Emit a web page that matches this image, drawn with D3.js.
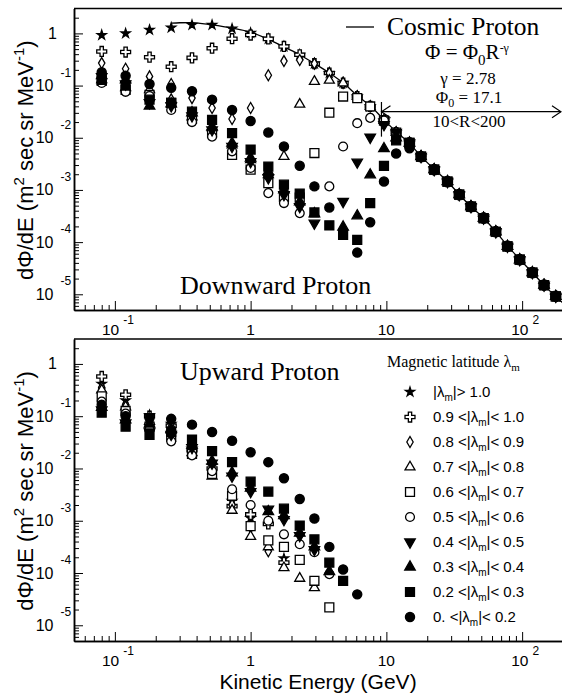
<!DOCTYPE html>
<html>
<head>
<meta charset="utf-8">
<script src="https://cdnjs.cloudflare.com/ajax/libs/d3/7.8.5/d3.min.js"></script>
<style>
    body { margin: 0; background: #fff; }
    svg { display: block; }
    .serif { font-family: "Liberation Serif", "Times New Roman", serif; }
    .sans { font-family: "Liberation Sans", Arial, Helvetica, sans-serif; }
    .axis .domain { stroke: #000; stroke-width: 1.5; }
    .axis .tick line { stroke: #000; stroke-width: 1; }
</style>
</head>
<body>
<div id="chart"></div>
<script>

// kinetic energy bins (GeV)
const energyBins = [0.08, 0.12, 0.18, 0.26, 0.37, 0.52, 0.73, 1.0, 1.35, 1.76, 2.3, 2.95, 3.8, 4.8, 6.1,
    7.6, 9.6, 11.8, 14.8, 18, 22.5, 28.2, 34.4, 42, 52, 64, 78, 96, 119, 145, 177];

// points sitting on the primary spectrum (all latitudes overlap there)
const primaryFlux = [null, null, null, null, null, null, null, 1.02, 0.785, 0.562, 0.389, 0.263, 0.174, 0.112, 0.0617,
    0.0398, 0.0214, 0.0126, 0.00794, 0.00437, 0.00245, 0.00145, 0.000813, 0.000479, 0.000288, 0.000158,
    8.3e-5, 4.6e-5, 2.6e-5, 1.5e-5, 9.1e-6];

// downward protons, below cutoff part (the rest follows primaryFlux)
const downStar = [0.93, 1.0, 1.17, 1.29, 1.45, 1.45, 1.23, 1.02];
const downCross = [0.45, 0.44, 0.35, 0.23, 0.34, 0.52, 0.79, 0.93];
const downDiamond = [0.27, 0.21, 0.15, 0.107, 0.0575, 0.0372, 0.0229, 0.0372, 0.158, 0.295, 0.309];
const downOpenTri = [0.129, 0.091, 0.083, 0.0537, 0.0251, 0.0155, 0.00724, 0.0038, 0.00195, 0.00437, 0.0437, 0.12, 0.126];
const downOpenSquare = [0.123, 0.083, 0.066, 0.0468, 0.0229, 0.0126, 0.00468, 0.00245, 0.00135, 0.00074, 0.00071,
    0.0051, 0.0302, 0.0617, 0.0575];
const downOpenCircle = [0.112, 0.076, 0.063, 0.034, 0.02, 0.0105, 0.0055, 0.00263, 0.00087, 0.00056, 0.00036,
    null, 0.00117, 0.0068, 0.019, 0.024];
const downTriDown = [0.148, 0.107, 0.0468, 0.0407, 0.0263, 0.0141, 0.0068, 0.00347, 0.0017, 0.00081, 0.00048,
    0.00023, null, 0.0006, 0.0034, 0.0102, 0.0178];
const downTriUp = [0.155, 0.129, 0.0407, 0.0447, 0.0302, 0.0162, 0.0079, 0.0041, 0.00224, 0.001, 0.00059,
    0.00035, null, 0.000195, 0.00032, 0.00195, 0.0062, 0.01];
const downSquare = [0.129, 0.1, 0.0537, 0.0468, 0.0316, 0.0219, 0.0123, 0.0059, 0.0028, 0.00126, 0.00085,
    0.00037, 0.00021, 0.000138, 0.00011, 0.00056, 0.0029, 0.0089];
const downCircle = [0.18, 0.155, 0.107, 0.091, 0.078, 0.0537, 0.034, 0.021, 0.0126, 0.0068, 0.0029,
    0.00117, 0.00046, null, 6.3e-5, 0.00024, 0.00145, 0.005, 0.0063];

// upward protons
const upStar = [0.417, 0.2, 0.105, 0.071, 0.024, 0.0112, 0.0024, 0.00112, null, 0.00019];
const upCross = [0.575, 0.257, 0.1, 0.066, 0.0224, 0.01, 0.0019, 0.00132, 0.00087, 0.000158];
const upDiamond = [0.355, 0.166, 0.089, 0.063, 0.0209, 0.0089, 0.002, 0.00074, 0.00026];
const upOpenTri = [0.316, 0.151, 0.079, 0.0537, 0.02, 0.0071, 0.00158, 0.0005, 0.000316, 0.000126, 7.9e-5, 5.2e-5];
const upOpenSquare = [0.24, 0.126, 0.063, 0.04, 0.019, 0.0079, 0.003, 0.00079, 0.00042, 0.000316, 0.000178, 7.1e-5, 2.2e-5];
const upOpenCircle = [0.19, 0.112, 0.056, 0.033, 0.0178, 0.0089, 0.004, 0.002, 0.001, 0.00055, 0.000355, 0.00025, 9.5e-5];
const upTriDown = [0.132, 0.074, 0.05, 0.0447, 0.025, 0.0126, 0.0071, 0.0036, 0.00166, 0.00105, 0.00052, 0.00028];
const upTriUp = [0.148, 0.085, 0.071, 0.056, 0.028, 0.0138, 0.0083, 0.0042, 0.0015, 0.00126, 0.00058, 0.000316, 0.000107];
const upSquare = [0.117, 0.063, 0.0437, 0.05, 0.0355, 0.0214, 0.0132, 0.0056, 0.0036, 0.0017, 0.00081, 0.00044, 0.000158, 7.1e-5];
const upCircle = [0.166, 0.1, 0.093, 0.089, 0.069, 0.05, 0.034, 0.0204, 0.0132, 0.0065, 0.0026, 0.0011, 0.000316, 0.000117, 3.9e-5];

// cosmic proton spectrum curve
const cosmicEnergy = [0.26, 0.3, 0.37, 0.52, 0.73, 1.0, 1.38, 1.76, 2.3, 2.95, 3.8, 4.8, 6.1, 7.6, 9.6, 11.8, 14.8,
    18, 22.5, 28.2, 34.4, 42, 52, 64, 78, 96, 119, 145, 177, 200];
const cosmicFlux = [1.57, 1.6, 1.61, 1.45, 1.26, 1.05, 0.75, 0.55, 0.39, 0.265, 0.175, 0.113, 0.064, 0.041, 0.0222,
    0.013, 0.0078, 0.0044, 0.0025, 0.00145, 0.00082, 0.00048, 0.00029, 0.000158, 8.5e-5, 4.7e-5, 2.6e-5, 1.5e-5, 9e-6, 6.8e-6];

// fit range arrow (energy) and its flux level
const fitRangeEnergy = [9.2, 200];
const fitRangeFlux = 0.0316;
const fitMarkFlux = [0.0484, 0.0105];

// legend
const legendPrefix = ["", "0.9 <", "0.8 <", "0.7 <", "0.6 <", "0.5 <", "0.4 <", "0.3 <", "0.2 <", "0. <"];
const legendSuffix = ["> 1.0", "< 1.0", "< 0.9", "< 0.8", "< 0.7", "< 0.6", "< 0.5", "< 0.4", "< 0.3", "< 0.2"];

// axis ticks (powers of ten)
const xTickExp = [-1, 0, 1, 2];
const yTickExp = [-5, -4, -3, -2, -1, 0];

const downSeries = [downStar, downCross, downDiamond, downOpenTri, downOpenSquare, downOpenCircle,
    downTriDown, downTriUp, downSquare, downCircle];
const upSeries = [upStar, upCross, upDiamond, upOpenTri, upOpenSquare, upOpenCircle,
    upTriDown, upTriUp, upSquare, upCircle];

// marker styles, same order as legend
const markerStyles = [
    {type: d3.symbolStar, size: 26, fill: "#000", rotate: 0},
    {type: d3.symbolCross, size: 55, fill: "#fff", rotate: 0},
    {type: d3.symbolDiamond, size: 35, fill: "#fff", rotate: 0},
    {type: d3.symbolTriangle, size: 43, fill: "#fff", rotate: 0},
    {type: d3.symbolSquare, size: 80, fill: "#fff", rotate: 0},
    {type: d3.symbolCircle, size: 62, fill: "#fff", rotate: 0},
    {type: d3.symbolTriangle, size: 48, fill: "#000", rotate: 180},
    {type: d3.symbolTriangle, size: 48, fill: "#000", rotate: 0},
    {type: d3.symbolSquare, size: 80, fill: "#000", rotate: 0},
    {type: d3.symbolCircle, size: 66, fill: "#000", rotate: 0}
];

const svg = d3.select("#chart").append("svg")
    .attr("width", 562)
    .attr("height", 693);

const x = d3.scaleLog().domain([0.05, 200]).range([74, 563]);

function powTen(e) { return Math.pow(10, e); }

function minorTicks(domain) {
    let out = [];
    for (let e = -7; e <= 3; e++) {
        for (let k = 2; k <= 9; k++) {
            let v = k * powTen(e);
            if (v > domain[0] * 1.0001 && v < domain[1] * 0.9999) out.push(v);
        }
    }
    return out;
}

class SpectrumPanel {

    constructor(_svg, _top, _bottom, _series, _title, _titleY) {
        this.svg = _svg;
        this.top = _top;
        this.bottom = _bottom;
        this.series = _series;
        this.title = _title;
        this.titleY = _titleY;
        this.initVis();
    }

    initVis() {
        let vis = this;

        vis.y = d3.scaleLog().domain([5e-6, 3]).range([vis.bottom, vis.top]);
        vis.g = vis.svg.append("g");

        // frame top line
        vis.g.append("line")
            .attr("x1", x.range()[0]).attr("x2", x.range()[1])
            .attr("y1", vis.top).attr("y2", vis.top)
            .attr("stroke", "#000").attr("stroke-width", 1.5);

        // y axis - ticks point inside
        vis.g.append("g").attr("class", "axis")
            .attr("transform", `translate(${x.range()[0]},0)`)
            .call(d3.axisRight(vis.y).tickValues(minorTicks(vis.y.domain())).tickSize(5).tickSizeOuter(0).tickFormat(""));
        vis.g.append("g").attr("class", "axis")
            .attr("transform", `translate(${x.range()[0]},0)`)
            .call(d3.axisRight(vis.y).tickValues(yTickExp.map(powTen)).tickSize(9).tickSizeOuter(0).tickFormat(""));

        // x axis
        vis.g.append("g").attr("class", "axis")
            .attr("transform", `translate(0,${vis.bottom})`)
            .call(d3.axisTop(x).tickValues(minorTicks(x.domain())).tickSize(5).tickSizeOuter(0).tickFormat(""));
        vis.g.append("g").attr("class", "axis")
            .attr("transform", `translate(0,${vis.bottom})`)
            .call(d3.axisTop(x).tickValues(xTickExp.map(powTen)).tickSize(9).tickSizeOuter(0).tickFormat(""));

        vis.svg.selectAll(".axis text").remove();

        vis.drawTickLabels();
        vis.drawYTitle();

        vis.g.append("text")
            .attr("class", "serif")
            .attr("x", 180).attr("y", vis.titleY)
            .style("font-size", "26px")
            .text(vis.title);

        // line layer below the markers
        vis.lineGroup = vis.g.append("g");
        vis.markerGroup = vis.g.append("g");
    }

    drawTickLabels() {
        let vis = this;

        // y labels
        yTickExp.forEach(e => {
            let ty = vis.y(powTen(e));
            if (e === 0) {
                vis.g.append("text").attr("class", "sans")
                    .attr("x", 57).attr("y", ty + 5.5)
                    .attr("text-anchor", "end")
                    .style("font-size", "16px").text("1");
            } else {
                vis.g.append("text").attr("class", "sans")
                    .attr("x", 53.5).attr("y", ty + 5.5)
                    .attr("text-anchor", "end")
                    .style("font-size", "16px").text("10");
                vis.g.append("text").attr("class", "sans")
                    .attr("x", 60.5).attr("y", ty - 9)
                    .style("font-size", "12px").text(e);
            }
        });

        // x labels
        xTickExp.forEach(e => {
            let tx = x(powTen(e));
            let t = vis.g.append("text").attr("class", "sans")
                .attr("y", vis.bottom + 25)
                .style("font-size", "15.5px");
            if (e === 0) {
                t.attr("x", tx).attr("text-anchor", "middle").text("1");
            } else if (e === 1) {
                t.attr("x", tx).attr("text-anchor", "middle").text("10");
            } else {
                t.attr("x", tx + 3).attr("text-anchor", "middle");
                t.append("tspan").text("10");
                t.append("tspan").attr("dx", 4).attr("dy", -11).style("font-size", "12px").text(e);
            }
        });
    }

    drawYTitle() {
        let vis = this;
        let cy = (vis.top + vis.bottom) / 2 + 1;
        let t = vis.g.append("text").attr("class", "sans")
            .attr("transform", `translate(33,${cy}) rotate(-90)`)
            .attr("text-anchor", "middle")
            .style("font-size", "22px");
        t.append("tspan").text("dΦ/dE (m");
        t.append("tspan").attr("dy", -9).style("font-size", "15px").text("2");
        t.append("tspan").attr("dy", 9).text(" sec sr MeV");
        t.append("tspan").attr("dy", -9).style("font-size", "15px").text("-1");
        t.append("tspan").attr("dy", 9).text(")");
    }

    drawMarkers(withPrimary) {
        let vis = this;

        vis.series.forEach((vals, i) => {
            let full = withPrimary ? vals.concat(primaryFlux.slice(vals.length)) : vals;
            let pts = [];
            full.forEach((v, j) => { if (v != null) pts.push({e: energyBins[j], v: v}); });

            let st = markerStyles[i];
            vis.markerGroup.append("g").selectAll("path")
                .data(pts)
                .enter().append("path")
                .attr("d", d3.symbol().type(st.type).size(st.size))
                .attr("transform", d => `translate(${x(d.e)},${vis.y(d.v)}) rotate(${st.rotate})`)
                .attr("fill", st.fill)
                .attr("stroke", "#000")
                .attr("stroke-width", 1.3);
        });
    }
}

// downward panel
let downPanel = new SpectrumPanel(svg, 8.5, 310, downSeries, "Downward Proton", 294);

// cosmic proton curve
let cosmicLine = d3.line()
    .x(d => x(d[0]))
    .y(d => downPanel.y(d[1]))
    .curve(d3.curveMonotoneX);
downPanel.lineGroup.append("path")
    .datum(cosmicEnergy.map((e, i) => [e, cosmicFlux[i]]))
    .attr("d", cosmicLine)
    .attr("fill", "none")
    .attr("stroke", "#000")
    .attr("stroke-width", 1.3);

downPanel.drawMarkers(true);

// fit range arrow
let ay = downPanel.y(fitRangeFlux);
let ax0 = x(fitRangeEnergy[0]), ax1 = Math.min(x(fitRangeEnergy[1]), 561);
let arrowG = downPanel.g.append("g").attr("stroke", "#000").attr("stroke-width", 1.2).attr("fill", "none");
arrowG.append("line").attr("x1", ax0).attr("x2", ax1).attr("y1", ay).attr("y2", ay);
arrowG.append("path").attr("d", `M${ax0 + 9},${ay - 6}L${ax0},${ay}L${ax0 + 9},${ay + 6}`);
arrowG.append("path").attr("d", `M${ax1 - 9},${ay - 6}L${ax1},${ay}L${ax1 - 9},${ay + 6}`);
arrowG.append("line").attr("x1", ax0).attr("x2", ax0)
    .attr("y1", downPanel.y(fitMarkFlux[0])).attr("y2", downPanel.y(fitMarkFlux[1]));

// cosmic proton legend + formula
downPanel.g.append("line")
    .attr("x1", 346).attr("x2", 374).attr("y1", 27).attr("y2", 27)
    .attr("stroke", "#000").attr("stroke-width", 1.3);
downPanel.g.append("text").attr("class", "serif")
    .attr("x", 387).attr("y", 35)
    .style("font-size", "25.5px").text("Cosmic Proton");

let f1 = downPanel.g.append("text").attr("class", "serif")
    .attr("x", 467).attr("y", 59).attr("text-anchor", "middle")
    .style("font-size", "21px");
f1.append("tspan").text("Φ = Φ");
f1.append("tspan").attr("dy", 6).style("font-size", "15px").text("0");
f1.append("tspan").attr("dy", -6).text("R");
f1.append("tspan").attr("dy", -7).style("font-size", "12px").text("-γ");

downPanel.g.append("text").attr("class", "serif")
    .attr("x", 468).attr("y", 84).attr("text-anchor", "middle")
    .style("font-size", "17px").text("γ = 2.78");

let f2 = downPanel.g.append("text").attr("class", "serif")
    .attr("x", 469).attr("y", 103).attr("text-anchor", "middle")
    .style("font-size", "17px");
f2.append("tspan").text("Φ");
f2.append("tspan").attr("dy", 4).style("font-size", "12px").text("0");
f2.append("tspan").attr("dy", -4).text(" = 17.1");

downPanel.g.append("text").attr("class", "serif")
    .attr("x", 469).attr("y", 127).attr("text-anchor", "middle")
    .style("font-size", "17px").text("10<R<200");

// upward panel
let upPanel = new SpectrumPanel(svg, 339, 641, upSeries, "Upward Proton", 380);
upPanel.drawMarkers(false);

// latitude legend
let lg = upPanel.g.append("g");
let lt = lg.append("text").attr("class", "serif")
    .attr("x", 387).attr("y", 367)
    .style("font-size", "16px");
lt.append("tspan").text("Magnetic latitude λ");
lt.append("tspan").attr("dy", 4).style("font-size", "11px").text("m");

markerStyles.forEach((st, i) => {
    let cy = 392 + 25 * i;
    lg.append("path")
        .attr("d", d3.symbol().type(st.type).size(st.size))
        .attr("transform", `translate(410,${cy}) rotate(${st.rotate})`)
        .attr("fill", st.fill)
        .attr("stroke", "#000")
        .attr("stroke-width", 1.3);
    let t = lg.append("text").attr("class", "sans")
        .attr("x", 433).attr("y", cy + 5)
        .style("font-size", "15px");
    t.append("tspan").text(legendPrefix[i] + "|λ");
    t.append("tspan").attr("dy", 4).style("font-size", "10px").text("m");
    t.append("tspan").attr("dy", -4).text("|" + legendSuffix[i]);
});

// x axis title
svg.append("text").attr("class", "sans")
    .attr("x", 318).attr("y", 689)
    .attr("text-anchor", "middle")
    .style("font-size", "21px")
    .text("Kinetic Energy (GeV)");

</script>
</body>
</html>
